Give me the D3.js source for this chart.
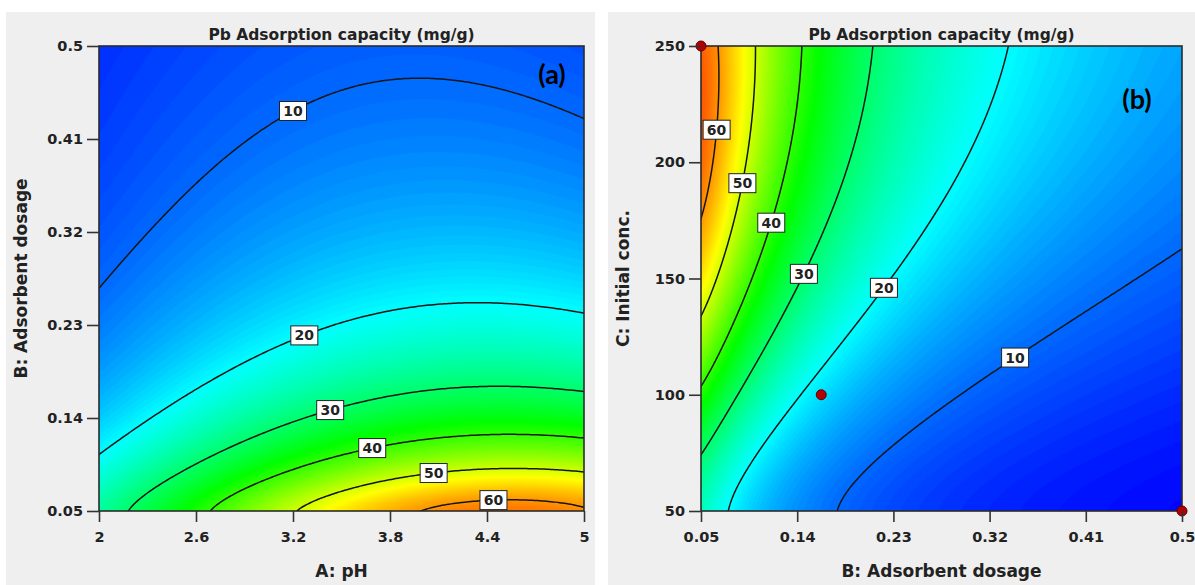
<!DOCTYPE html>
<html>
<head>
<meta charset="utf-8">
<script src="https://cdn.jsdelivr.net/npm/d3@7"></script>
<style>
  body { margin: 0; background: #fff; }
  svg text { font-family: "DejaVu Sans", Arial, sans-serif; font-weight: bold; fill: #222; }
</style>
</head>
<body>
<svg id="chart" width="1195" height="585"></svg>
<script>
// contour levels drawn on both panels
const levels = [10, 20, 30, 40, 50, 60]

// panel (a): contour traces, [pH, adsorbent dosage]
const traceA10 = [[2.00, 0.257], [2.315, 0.309], [2.625, 0.361], [2.934, 0.402], [3.20, 0.431], [3.553, 0.457], [4.016, 0.470], [4.48, 0.459], [5.00, 0.430]]
const traceA20 = [[2.00, 0.104], [2.594, 0.170], [3.274, 0.228], [3.862, 0.246], [4.406, 0.252], [5.00, 0.243]]
const traceA30 = [[2.173, 0.050], [2.798, 0.112], [3.429, 0.155], [4.344, 0.170], [5.00, 0.167]]
const traceA40 = [[2.705, 0.050], [3.212, 0.093], [3.689, 0.116], [4.388, 0.122], [5.00, 0.118]]
const traceA50 = [[3.243, 0.050], [3.627, 0.067], [4.066, 0.086], [4.48, 0.088], [5.00, 0.084]]
const traceA60 = [[3.936, 0.050], [4.245, 0.057], [4.635, 0.059], [5.00, 0.058]]
// corner values estimated from the colour, [pH, dosage, capacity]
const cornerA = [[2.0, 0.5, 7], [2.0, 0.05, 27], [5.0, 0.05, 66]]
const labelA_pH = [3.20, 3.27, 3.43, 3.69, 4.07, 4.44]

// panel (b): [adsorbent dosage, initial conc.]
const traceB10 = [[0.500, 157], [0.430, 144], [0.367, 127], [0.325, 116], [0.274, 92], [0.176, 50]]
const traceB20 = [[0.340, 250], [0.320, 227], [0.290, 192], [0.238, 154], [0.220, 146], [0.150, 100], [0.071, 50]]
const traceB30 = [[0.210, 250], [0.194, 210], [0.169, 175], [0.152, 152], [0.101, 112], [0.050, 74]]
const traceB40 = [[0.144, 250], [0.138, 210], [0.116, 174], [0.103, 154], [0.050, 105]]
const traceB50 = [[0.097, 250], [0.094, 224], [0.088, 191], [0.061, 149], [0.050, 137]]
const traceB60 = [[0.065, 250], [0.064, 214], [0.060, 195], [0.050, 174]]
const cornerB = [[0.05, 250, 70], [0.05, 50, 27], [0.5, 250, 14], [0.5, 50, 3.5]]
const labelB_conc = [116, 146, 152, 174, 191, 214]

// design points shown on panel (b)
const designB_dose = [0.05, 0.1625, 0.5]
const designB_conc = [250, 100, 50]

const ticksPH = [2, 2.6, 3.2, 3.8, 4.4, 5]
const ticksDose = [0.05, 0.14, 0.23, 0.32, 0.41, 0.5]
const ticksConc = [50, 100, 150, 200, 250]

const colorStops = [3, 20, 37, 53, 70]
const colorRange = ["#0000ff", "#00ffff", "#00ff00", "#ffff00", "#ff0000"]

const color = d3.scaleLinear().domain(colorStops).range(colorRange).clamp(true)
const svg = d3.select("#chart")

// smooth response surface: ln(q) as a cubic in the coded factors,
// weighted least squares through the traced contour points
function basis(u, v) {
    return [1, u, v, u * u, u * v, v * v, u * u * u, u * u * v, u * v * v, v * v * v]
}

function fitSurface(traces, corners, cx, cy) {
    const rows = [], ys = [], ws = []
    traces.forEach(function (pts, k) {
        pts.forEach(function (p) {
            rows.push(basis(cx(p[0]), cy(p[1])))
            ys.push(Math.log(levels[k]))
            ws.push(3)
        })
    })
    corners.forEach(function (c) {
        rows.push(basis(cx(c[0]), cy(c[1])))
        ys.push(Math.log(c[2]))
        ws.push(1)
    })
    const m = rows[0].length
    const M = d3.range(m).map(() => new Array(m + 1).fill(0))
    rows.forEach(function (r, i) {
        for (let a = 0; a < m; a++) {
            for (let b = 0; b < m; b++) M[a][b] += ws[i] * r[a] * r[b]
            M[a][m] += ws[i] * r[a] * ys[i]
        }
    })
    for (let a = 0; a < m; a++) M[a][a] += 1e-6
    for (let c = 0; c < m; c++) {
        let piv = c
        for (let r = c + 1; r < m; r++) if (Math.abs(M[r][c]) > Math.abs(M[piv][c])) piv = r
        const tmp = M[c]; M[c] = M[piv]; M[piv] = tmp
        for (let r = 0; r < m; r++) {
            if (r === c) continue
            const f = M[r][c] / M[c][c]
            for (let k = c; k <= m; k++) M[r][k] -= f * M[c][k]
        }
    }
    const coef = M.map((row, i) => row[m] / row[i])
    return function (xv, yv) {
        const b = basis(cx(xv), cy(yv))
        return Math.exp(d3.sum(b, (t, i) => t * coef[i]))
    }
}

const codePH = ph => (ph - 3.5) / 1.5
const codeDose = d => 2 * Math.log(d / 0.05) / Math.log(10) - 1
const codeConc = c => 2 * Math.log(c / 50) / Math.log(5) - 1

const surfA = fitSurface([traceA10, traceA20, traceA30, traceA40, traceA50, traceA60], cornerA, codePH, codeDose)
const surfB = fitSurface([traceB10, traceB20, traceB30, traceB40, traceB50, traceB60], cornerB, codeDose, codeConc)

// bisection for the label anchor along one factor
function solveAlong(f, lo, hi, level) {
    let a = lo, b = hi
    for (let i = 0; i < 50; i++) {
        const mid = (a + b) / 2
        if (f(mid) > level) a = mid
        else b = mid
    }
    return (a + b) / 2
}

function drawPanel(p) {
    svg.append("rect")
        .attr("x", p.bg[0]).attr("y", p.bg[1])
        .attr("width", p.bg[2]).attr("height", p.bg[3])
        .style("fill", "#efefef")

    const x = d3.scaleLinear().domain(p.xDomain).range([p.left, p.left + p.width])
    const y = d3.scaleLinear().domain(p.yDomain).range([p.top + p.height, p.top])

    const n = 220
    const sx = (p.xDomain[1] - p.xDomain[0]) / (n - 1)
    const sy = (p.yDomain[1] - p.yDomain[0]) / (n - 1)
    const values = new Float64Array(n * n)
    for (let j = 0; j < n; j++) {
        for (let i = 0; i < n; i++) {
            values[j * n + i] = p.f(p.xDomain[0] + i * sx, p.yDomain[0] + j * sy)
        }
    }

    const proj = d3.geoTransform({
        point: function (px, py) {
            this.stream.point(x(p.xDomain[0] + (px - 0.5) * sx), y(p.yDomain[0] + (py - 0.5) * sy))
        }
    })
    const path = d3.geoPath(proj)

    svg.append("clipPath").attr("id", p.id + "-clip")
        .append("rect")
        .attr("x", p.left).attr("y", p.top)
        .attr("width", p.width).attr("height", p.height)

    const plot = svg.append("g").attr("clip-path", `url(#${p.id}-clip)`)

    const bands = d3.contours().size([n, n]).thresholds(d3.range(0, 90, 0.5))(values)
    plot.selectAll("path.band")
        .data(bands)
        .enter().append("path")
        .attr("class", "band")
        .attr("d", path)
        .style("fill", d => color(d.value + 0.25))
        .style("stroke", d => color(d.value + 0.25))
        .style("stroke-width", 0.6)

    const lines = d3.contours().size([n, n]).thresholds(levels)(values)
    plot.selectAll("path.level")
        .data(lines)
        .enter().append("path")
        .attr("class", "level")
        .attr("d", path)
        .style("fill", "none")
        .style("stroke", "#151515")
        .style("stroke-width", 1.5)

    // plot frame
    svg.append("rect")
        .attr("x", p.left).attr("y", p.top)
        .attr("width", p.width).attr("height", p.height)
        .style("fill", "none")
        .style("stroke", "#2b2b2b")
        .style("stroke-width", 1.6)

    // contour labels
    const lab = svg.append("g")
    levels.forEach(function (lv, k) {
        let px, py
        if (p.labelOnX) {
            const xv = p.labelPos[k]
            const yv = solveAlong(t => p.f(xv, t), p.yDomain[0], p.yDomain[1], lv)
            px = x(xv); py = y(yv)
        } else {
            const yv = p.labelPos[k]
            const xv = solveAlong(t => p.f(t, yv), p.xDomain[0], p.xDomain[1], lv)
            px = x(xv); py = y(yv)
        }
        lab.append("rect")
            .attr("x", px - 13.5).attr("y", py - 9.5)
            .attr("width", 27).attr("height", 19)
            .style("fill", "#fff")
            .style("stroke", "#222")
            .style("stroke-width", 1)
        lab.append("text")
            .attr("x", px).attr("y", py)
            .attr("dy", "0.36em")
            .attr("text-anchor", "middle")
            .style("font-size", "14px")
            .text(lv)
    })

    if (p.points) {
        svg.selectAll("circle." + p.id)
            .data(p.points[0])
            .enter().append("circle")
            .attr("class", p.id)
            .attr("cx", d => x(d))
            .attr("cy", (d, i) => y(p.points[1][i]))
            .attr("r", 5)
            .style("fill", "#b30000")
            .style("stroke", "#5a0000")
            .style("stroke-width", 1)
    }

    // axes
    const xAxis = svg.append("g")
        .attr("transform", `translate(0, ${p.top + p.height})`)
        .call(d3.axisBottom(x).tickValues(p.xTicks).tickFormat(String).tickSize(11).tickPadding(10).tickSizeOuter(0))
    xAxis.select(".domain").remove()
    xAxis.selectAll("line").style("stroke", "#333").style("stroke-width", 1.6)
    xAxis.selectAll("text").style("font-size", "14.5px").style("fill", "#222").style("font-family", null)

    const yAxis = svg.append("g")
        .attr("transform", `translate(${p.left}, 0)`)
        .call(d3.axisLeft(y).tickValues(p.yTicks).tickFormat(String).tickSize(12).tickPadding(4).tickSizeOuter(0))
    yAxis.select(".domain").remove()
    yAxis.selectAll("line").style("stroke", "#333").style("stroke-width", 1.6)
    yAxis.selectAll("text").style("font-size", "14.5px").style("fill", "#222").style("font-family", null)

    svg.append("text")
        .attr("x", p.left + p.width / 2).attr("y", 40)
        .attr("text-anchor", "middle")
        .style("font-size", "15.5px")
        .text("Pb Adsorption capacity (mg/g)")

    svg.append("text")
        .attr("x", p.left + p.width / 2).attr("y", 577)
        .attr("text-anchor", "middle")
        .style("font-size", "17px")
        .text(p.xTitle)

    svg.append("text")
        .attr("transform", `translate(${p.yTitleX}, ${p.top + p.height / 2}) rotate(-90)`)
        .attr("text-anchor", "middle")
        .style("font-size", "17px")
        .text(p.yTitle)

    svg.append("text")
        .attr("x", p.tag[0]).attr("y", p.tag[1])
        .attr("text-anchor", "middle")
        .style("font-family", "Lato, 'Open Sans', sans-serif")
        .style("font-size", "27px")
        .style("fill", "#000")
        .text(p.tagText)
}

drawPanel({
    id: "pa", bg: [6, 12, 589, 573],
    left: 99, top: 46, width: 485, height: 465,
    xDomain: [2, 5], yDomain: [0.05, 0.5],
    xTicks: ticksPH, yTicks: ticksDose,
    f: surfA, labelOnX: true, labelPos: labelA_pH,
    xTitle: "A: pH", yTitle: "B: Adsorbent dosage", yTitleX: 27,
    tag: [552, 84], tagText: "(a)"
})

drawPanel({
    id: "pb", bg: [608, 12, 587, 573],
    left: 701, top: 46, width: 481, height: 465,
    xDomain: [0.05, 0.5], yDomain: [50, 250],
    xTicks: ticksDose, yTicks: ticksConc,
    f: surfB, labelOnX: false, labelPos: labelB_conc,
    points: [designB_dose, designB_conc],
    xTitle: "B: Adsorbent dosage", yTitle: "C: Initial conc.", yTitleX: 629,
    tag: [1137, 109], tagText: "(b)"
})
</script>
</body>
</html>
